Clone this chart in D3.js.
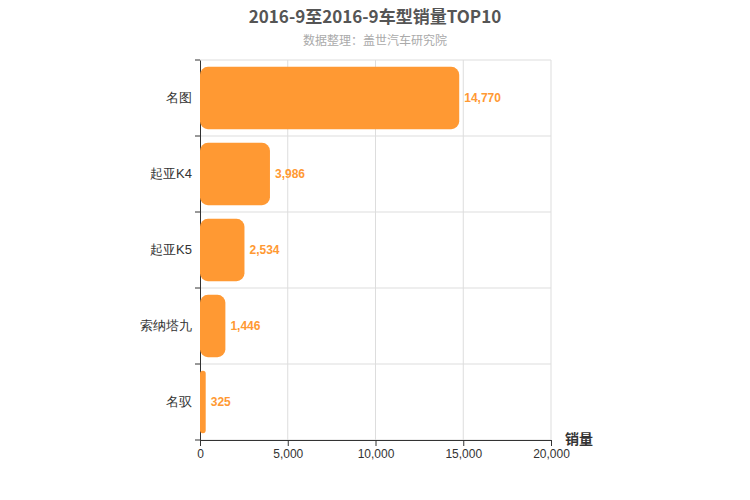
<!DOCTYPE html>
<html><head><meta charset="utf-8">
<script src="https://cdn.jsdelivr.net/npm/d3@7"></script>
<style>body{margin:0;background:#fff;font-family:"Noto Sans CJK SC","Noto Sans",sans-serif;}</style>
</head><body>
<svg id="chart" width="750" height="500"></svg>
<script>
const categories = ['名图', '起亚K4', '起亚K5', '索纳塔九', '名驭'];
const sales = [14770, 3986, 2534, 1446, 325];
const xTicks = [0, 5000, 10000, 15000, 20000];

const svg = d3.select('#chart');
const margin = { top: 60, left: 200, right: 199, bottom: 60 };
const width = 750 - margin.left - margin.right;
const height = 500 - margin.top - margin.bottom;

svg.append('text').attr('x', 375).attr('y', 23).attr('text-anchor', 'middle')
  .attr('font-size', 17).attr('font-weight', 'bold').attr('fill', '#555')
  .text('2016-9至2016-9车型销量TOP10');
svg.append('text').attr('x', 375).attr('y', 45).attr('text-anchor', 'middle')
  .attr('font-size', 12).attr('fill', '#aaa').text('数据整理：盖世汽车研究院');

const g = svg.append('g').attr('transform', `translate(${margin.left},${margin.top})`);
const x = d3.scaleLinear().domain([0, 20000]).range([0, width]);
const y = d3.scaleBand().domain(categories).range([0, height]).paddingInner(0.18).paddingOuter(0.09);

// grid
g.selectAll('.vgrid').data(xTicks.slice(1)).enter().append('line')
  .attr('x1', d => x(d)).attr('x2', d => x(d)).attr('y1', 0).attr('y2', height)
  .attr('stroke', '#ddd');
const bounds = d3.range(categories.length + 1).map(i => i * height / categories.length);
g.selectAll('.hgrid').data(bounds).enter().append('line')
  .attr('x1', 0).attr('x2', width).attr('y1', d => d).attr('y2', d => d)
  .attr('stroke', '#ddd');

const xAxis = g.append('g').attr('transform', `translate(0,${height})`)
  .call(d3.axisBottom(x).tickValues(xTicks).tickFormat(d3.format(',')).tickSizeOuter(0));
xAxis.selectAll('text').attr('font-size', 12).attr('fill', '#333').attr('font-family', 'Arial, sans-serif');
xAxis.selectAll('line,path').attr('stroke', '#333');

const yAxis = g.append('g').call(d3.axisLeft(y).tickSize(0).tickPadding(8));
yAxis.selectAll('text').attr('font-size', 13).attr('fill', '#333');
yAxis.select('path').attr('stroke', '#333');
yAxis.selectAll('.b').data(bounds).enter().append('line').attr('class', 'b')
  .attr('x1', -5).attr('x2', 0).attr('y1', d => d).attr('y2', d => d).attr('stroke', '#333');

g.selectAll('.bar').data(sales).enter().append('rect')
  .attr('x', 0).attr('y', (d, i) => y(categories[i]))
  .attr('width', d => x(d)).attr('height', y.bandwidth())
  .attr('rx', d => Math.min(8, x(d) / 2)).attr('fill', '#ff9933');

g.selectAll('.lbl').data(sales).enter().append('text')
  .attr('x', d => x(d) + 5).attr('y', (d, i) => y(categories[i]) + y.bandwidth() / 2 + 4)
  .attr('font-size', 12).attr('font-weight', 'bold').attr('fill', '#ff9933')
  .attr('font-family', 'Arial, sans-serif').text(d => d3.format(',')(d));

svg.append('text').attr('x', 565).attr('y', 444).attr('font-size', 14).attr('font-weight', 'bold')
  .attr('fill', '#333').text('销量');
</script>
</body></html>
